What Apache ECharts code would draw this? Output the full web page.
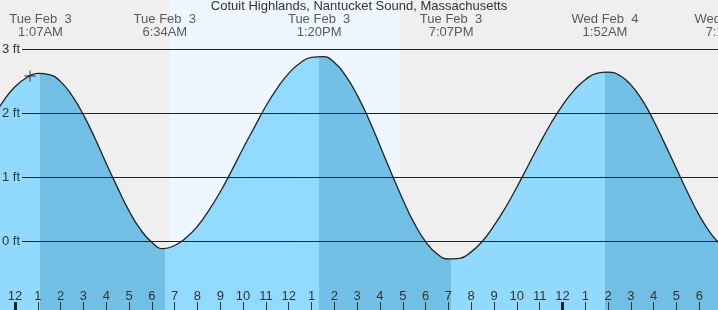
<!DOCTYPE html>
<html><head><meta charset="utf-8">
<script src="https://cdn.jsdelivr.net/npm/echarts@6/dist/echarts.min.js"></script>
<style>html,body{margin:0;padding:0;background:#efefef}#c{width:718px;height:310px}</style>
</head><body><div id="c"></div>
<script>
// ---- data (hours from midnight Tue Feb 3, heights in ft) ----
const chartTitle = 'Cotuit Highlands, Nantucket Sound, Massachusetts';
const tideTimes   = [-1, -0.5, 0, 0.5, 1, 1.5, 2, 2.5, 3, 3.5, 4, 4.5, 5, 5.5, 6, 6.5, 7, 7.5, 8, 8.5, 9, 9.5, 10, 10.5, 11, 11.5, 12, 12.5, 13, 13.5, 14, 14.5, 15, 15.5, 16, 16.5, 17, 17.5, 18, 18.5, 19, 19.5, 20, 20.5, 21, 21.5, 22, 22.5, 23, 23.5, 24, 24.5, 25, 25.5, 26, 26.5, 27, 27.5, 28, 28.5, 29, 29.5, 30, 30.5, 31];
const tideHeights = [1.91, 2.19, 2.41, 2.55, 2.62, 2.60, 2.49, 2.27, 1.97, 1.61, 1.21, 0.83, 0.47, 0.18, -0.02, -0.12, -0.07, 0.05, 0.23, 0.48, 0.77, 1.10, 1.45, 1.78, 2.11, 2.39, 2.62, 2.78, 2.87, 2.88, 2.79, 2.58, 2.28, 1.91, 1.49, 1.06, 0.65, 0.28, -0.01, -0.20, -0.28, -0.27, -0.17, 0.00, 0.24, 0.52, 0.84, 1.18, 1.52, 1.84, 2.12, 2.35, 2.52, 2.62, 2.64, 2.59, 2.44, 2.20, 1.88, 1.51, 1.13, 0.75, 0.40, 0.12, -0.08];
const extremeTimes = [1.117, 6.567, 13.333, 19.117, 25.867, 31.26];
const extremeDays  = ['Tue Feb  3', 'Tue Feb  3', 'Tue Feb  3', 'Tue Feb  3', 'Wed Feb  4', 'Wed Feb  4'];
const extremeClock = ['1:07AM', '6:34AM', '1:20PM', '7:07PM', '1:52AM', '7:16AM'];
const hourTicks = [0,1,2,3,4,5,6,7,8,9,10,11,12,13,14,15,16,17,18,19,20,21,22,23,24,25,26,27,28,29,30];
const midnightTicks = [0, 24];
const heightTicks = [0, 1, 2, 3];
const daylight = [6.8, 16.88];
const nowMark = [0.66, 2.58];

// ---- layout constants ----
const X_MIN = -0.658, X_MAX = 30.82, Y_MIN = -1.0781, Y_MAX = 3.7656;
const GRID_START = 0.307, LABEL_LEVEL = 3.367;
const FONT = 'Liberation Sans, Arial, sans-serif';
const LIGHT = '#87d7ff', DARK = '#64bae3';

const tideData = tideTimes.map((t, i) => [t, tideHeights[i]]);
const pieces = [];
let prev = null;
extremeTimes.forEach((t, i) => {
  const p = { lt: t, color: i % 2 === 0 ? LIGHT : DARK };
  if (prev !== null) p.gte = prev;
  pieces.push(p);
  prev = t;
});
pieces.push({ gte: prev, color: LIGHT });

const hourLabel = v => { const h = ((Math.round(v) % 24) + 24) % 24; return String(h === 0 ? 12 : (h > 12 ? h - 12 : h)); };

const chart = echarts.init(document.getElementById('c'));
chart.setOption({
  backgroundColor: '#efefef',
  animation: false,
  title: { text: chartTitle, left: 'center', top: 0, padding: 0,
    textStyle: { fontFamily: FONT, fontSize: 13, fontWeight: 'normal', color: '#333' } },
  grid: { left: 0, right: 0, top: 0, bottom: 0, containLabel: false, outerBoundsMode: 'none' },
  xAxis: [{
    type: 'value', min: X_MIN, max: X_MAX, z: 5,
    axisLine: { show: false, onZero: false }, splitLine: { show: false },
    axisTick: { show: true, inside: true, length: 8, customValues: hourTicks, lineStyle: { color: '#333', width: 1 } },
    axisLabel: { show: true, inside: true, margin: 7, customValues: hourTicks, formatter: hourLabel,
      fontFamily: FONT, fontSize: 13, color: '#333' }
  }, {
    type: 'value', min: X_MIN, max: X_MAX, position: 'bottom', z: 6,
    axisLine: { show: false, onZero: false }, splitLine: { show: false }, axisLabel: { show: false },
    axisTick: { show: true, inside: true, length: 8, customValues: midnightTicks, lineStyle: { color: '#222', width: 3 } }
  }],
  yAxis: {
    type: 'value', min: Y_MIN, max: Y_MAX, z: 5,
    axisLine: { show: false, onZero: false }, splitLine: { show: false }, axisTick: { show: false },
    axisLabel: { inside: true, margin: 2, customValues: heightTicks, formatter: v => v + ' ft',
      fontFamily: FONT, fontSize: 13, color: '#333', verticalAlign: 'middle' }
  },
  visualMap: { type: 'piecewise', show: false, dimension: 0, seriesIndex: 2, pieces: pieces },
  series: [
    { type: 'line', z: 0, silent: true, data: [[X_MIN, Y_MIN]], symbol: 'none', lineStyle: { width: 0, opacity: 0 },
      markArea: { silent: true, itemStyle: { color: '#eef6ff' },
        data: [[{ coord: [daylight[0], Y_MAX] }, { coord: [daylight[1], Y_MIN] }]] } },
    { type: 'line', z: 1, silent: true, data: [[X_MIN, Y_MIN]], symbol: 'none', lineStyle: { width: 0, opacity: 0 },
      markLine: { silent: true, symbol: 'none', label: { show: false },
        lineStyle: { color: '#222', width: 1, type: 'solid' },
        data: heightTicks.map(v => [{ coord: [GRID_START, v] }, { coord: [X_MAX, v] }]) } },
    { type: 'line', z: 2, data: tideData, smooth: 0.5, showSymbol: false, symbol: 'none',
      lineStyle: { color: '#222', width: 1.3 },
      areaStyle: { opacity: 0.9, origin: 'start' } },
    { type: 'scatter', z: 3, clip: false, symbolSize: 0, silent: true,
      data: extremeTimes.map((t, i) => [t, LABEL_LEVEL]),
      label: { show: true, position: 'inside', fontFamily: FONT, fontSize: 13, lineHeight: 13, color: '#333',
        formatter: p => extremeDays[p.dataIndex] + '\n' + extremeClock[p.dataIndex] } },
    { type: 'scatter', z: 4, silent: true, data: [nowMark], symbolSize: 11,
      symbol: 'path://M4.5,0H5.5V4.5H10V5.5H5.5V10H4.5V5.5H0V4.5H4.5Z', itemStyle: { color: '#222' } }
  ]
});
</script></body></html>
